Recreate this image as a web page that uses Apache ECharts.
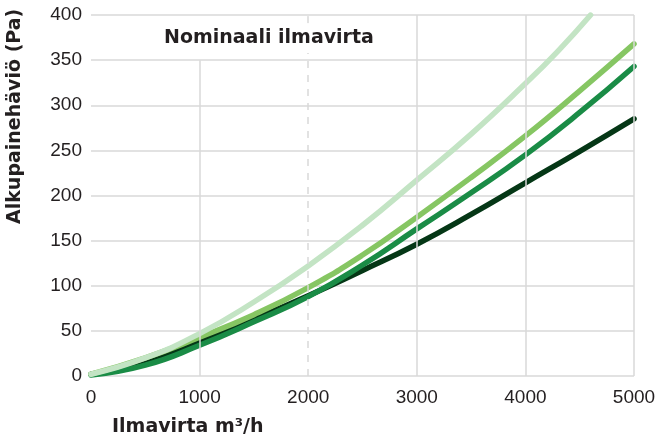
<!DOCTYPE html>
<html>
<head>
<meta charset="utf-8">
<script src="https://cdn.jsdelivr.net/npm/echarts@6/dist/echarts.min.js"></script>
<style>html,body{margin:0;padding:0;background:#fff}#c{width:672px;height:441px}</style>
</head>
<body>
<div id="c"></div>
<script>
// Data
const xPale   = [0, 500, 1000, 1500, 2000, 2500, 3000, 3500, 4000, 4300, 4600];
const yPale   = [2, 20, 47, 82, 122, 167, 217, 268, 324, 360, 400];
const xCommon = [0, 500, 1000, 1500, 2000, 2500, 3000, 3500, 4000, 4500, 5000];
const yLight  = [2, 20, 43, 68, 98, 134, 176, 220, 266, 316, 368];
const yMid    = [1, 12, 34, 60, 88, 123, 163, 203, 245, 292, 343];
const yDark   = [2, 16, 38, 63, 89, 117, 146, 179, 214, 249, 285];
const nominalFlow = 2000;
const titleText = 'Nominaali ilmavirta';
const xName = 'Ilmavirta m³/h';
const yName = 'Alkupainehäviö (Pa)';

const zip = (xs, ys) => xs.map((x, i) => [x, ys[i]]);
const chart = echarts.init(document.getElementById('c'));
const gridColor = '#d9d9d9';
const textColor = '#231f20';
const font = 'Liberation Sans';
const boldFont = 'bold 19px "DejaVu Sans", sans-serif';

const solidLines = [3000, 4000, 5000].map(v => [{coord: [v, 0]}, {coord: [v, 400]}]);
solidLines.push([{coord: [1000, 0]}, {coord: [1000, 350]}]);
const dashStyle = {type: [7, 7], color: gridColor, width: 1.5};
const dashLines = [
  [{coord: [nominalFlow, 0], lineStyle: dashStyle}, {coord: [nominalFlow, 358]}],
  [{coord: [nominalFlow, 391], lineStyle: dashStyle}, {coord: [nominalFlow, 400]}]
];

function lineSeries(data, color) {
  return {
    type: 'line', data: data, smooth: 0.5, showSymbol: false, symbol: 'none',
    lineStyle: {color: color, width: 5.5, cap: 'round', join: 'round'},
    itemStyle: {color: color}, silent: true
  };
}

chart.setOption({
  animation: false,
  grid: {left: 91, right: 38, top: 15, bottom: 65},
  xAxis: {
    type: 'value', min: 0, max: 5000, interval: 1000,
    axisLine: {show: false}, axisTick: {show: false}, splitLine: {show: false},
    axisLabel: {fontSize: 19, color: textColor, fontFamily: font, margin: 12, formatter: v => String(v)}
  },
  yAxis: {
    type: 'value', min: 0, max: 400, interval: 50,
    axisLine: {show: false}, axisTick: {show: false},
    splitLine: {show: true, lineStyle: {color: gridColor, width: 1.5}},
    axisLabel: {fontSize: 19, color: textColor, fontFamily: font, margin: 9, formatter: v => String(v)}
  },
  graphic: [
    {type: 'text', left: 164, top: 29, style: {text: titleText, font: boldFont, fill: textColor}},
    {type: 'text', left: 112, top: 418, style: {text: xName, font: boldFont, fill: textColor}},
    {type: 'text', x: 15, y: 224, rotation: Math.PI / 2, style: {text: yName, font: boldFont, fill: textColor, textAlign: 'left', textVerticalAlign: 'middle'}}
  ],
  series: [
    {
      type: 'line', data: [], silent: true, z: 1,
      markLine: {
        silent: true, symbol: ['none', 'none'], label: {show: false},
        lineStyle: {color: gridColor, width: 1.5, type: 'solid'},
        data: solidLines.concat(dashLines)
      }
    },
    lineSeries(zip(xCommon, yDark), '#053716'),
    lineSeries(zip(xCommon, yMid), '#1a8c46'),
    lineSeries(zip(xCommon, yLight), '#86c663'),
    lineSeries(zip(xPale, yPale), '#c3e4c4')
  ]
});
</script>
</body>
</html>
